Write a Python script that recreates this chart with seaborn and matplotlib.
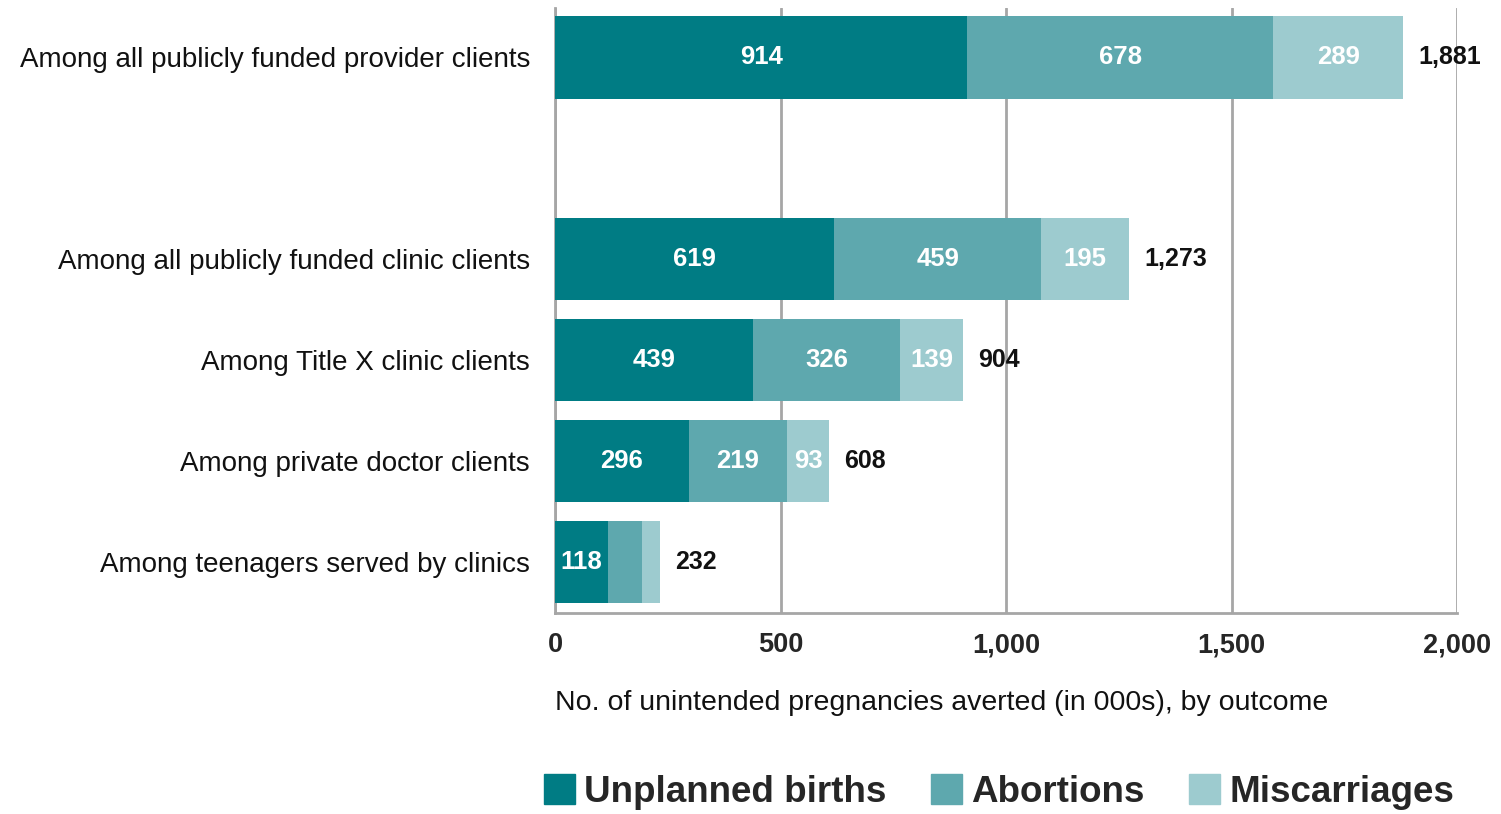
import pandas as pd
import matplotlib.pyplot as plt
import seaborn as sns
from matplotlib.patches import Patch

# Data (thousands of unintended pregnancies averted)
categories = ['Among all publicly funded provider clients',
              '',
              'Among all publicly funded clinic clients',
              'Among Title X clinic clients',
              'Among private doctor clients',
              'Among teenagers served by clinics']
unplanned = [914, None, 619, 439, 296, 118]
abortions = [678, None, 459, 326, 219, 74]
miscarriages = [289, None, 195, 139, 93, 40]
totals = [1881, None, 1273, 904, 608, 232]
total_labels = ['1,881', '', '1,273', '904', '608', '232']
show_seg_labels = [True, False, True, True, True, False]

col_ub = '#007C84'
col_ab = '#5EA8AE'
col_mc = '#9DCBCF'
grid_col = '#A6A6A6'

df = pd.DataFrame({'cat': categories, 'ub': unplanned, 'ab': abortions,
                   'mc': miscarriages})
df['ub_ab'] = df['ub'] + df['ab']
df['all'] = df['ub_ab'] + df['mc']

sns.set_style('white')
plt.rcParams['font.family'] = ['Liberation Sans', 'DejaVu Sans']

fig = plt.figure(figsize=(15.01, 8.14), dpi=100)
ax = fig.add_axes([0.3698, 0.2469, 0.601, 0.7431])

# stacked bars drawn as cumulative overlays
for col, c in [('all', col_mc), ('ub_ab', col_ab), ('ub', col_ub)]:
    sns.barplot(data=df, x=col, y='cat', order=categories, color=c,
                width=0.82, errorbar=None, orient='h', saturation=1,
                linewidth=0, ax=ax, zorder=3)

lab_kw = dict(ha='center', va='center', color='white', fontsize=18.5,
              fontweight='bold', zorder=4)
for i, row in df.iterrows():
    if row['ub'] != row['ub']:
        continue
    ax.text(row['ub'] / 2, i, f"{int(row['ub'])}", **lab_kw)
    if show_seg_labels[i]:
        ax.text(row['ub'] + row['ab'] / 2, i, f"{int(row['ab'])}", **lab_kw)
        ax.text(row['ub_ab'] + row['mc'] / 2, i, f"{int(row['mc'])}", **lab_kw)
    ax.annotate(total_labels[i], (totals[i], i), xytext=(11, 0),
                textcoords='offset points', ha='left', va='center',
                fontsize=18, fontweight='bold', color='#111111')

ax.set_xlim(0, 2000)
ax.set_ylim(5.505, -0.485)
ax.set_xticks([0, 500, 1000, 1500, 2000])
ax.set_xticklabels(['0', '500', '1,000', '1,500', '2,000'],
                   fontsize=19.5, fontweight='bold')
ax.xaxis.grid(True, color=grid_col, linewidth=2, zorder=0)
ax.set_axisbelow(True)
ax.tick_params(axis='x', direction='out', length=6, width=2, color=grid_col, pad=8)
ax.tick_params(axis='y', length=0, pad=18, labelsize=20)
for lbl in ax.get_yticklabels():
    lbl.set_color('#111111')

for side in ['top', 'right']:
    ax.spines[side].set_visible(False)
for side in ['left', 'bottom']:
    ax.spines[side].set_color(grid_col)
    ax.spines[side].set_linewidth(2)

ax.set_ylabel('')
ax.set_xlabel('No. of unintended pregnancies averted (in 000s), by outcome',
              fontsize=20.5, loc='left', labelpad=23, color='#111111')

handles = [Patch(color=col_ub, label='Unplanned births'),
           Patch(color=col_ab, label='Abortions'),
           Patch(color=col_mc, label='Miscarriages')]
fig.legend(handles=handles, loc='center', bbox_to_anchor=(0.6656, 0.027),
           ncol=3, frameon=False, prop={'size': 26.5, 'weight': 'bold'},
           handlelength=0.85, handleheight=0.85, handletextpad=0.25,
           columnspacing=1.2)

fig.savefig('out.png', dpi=100)
